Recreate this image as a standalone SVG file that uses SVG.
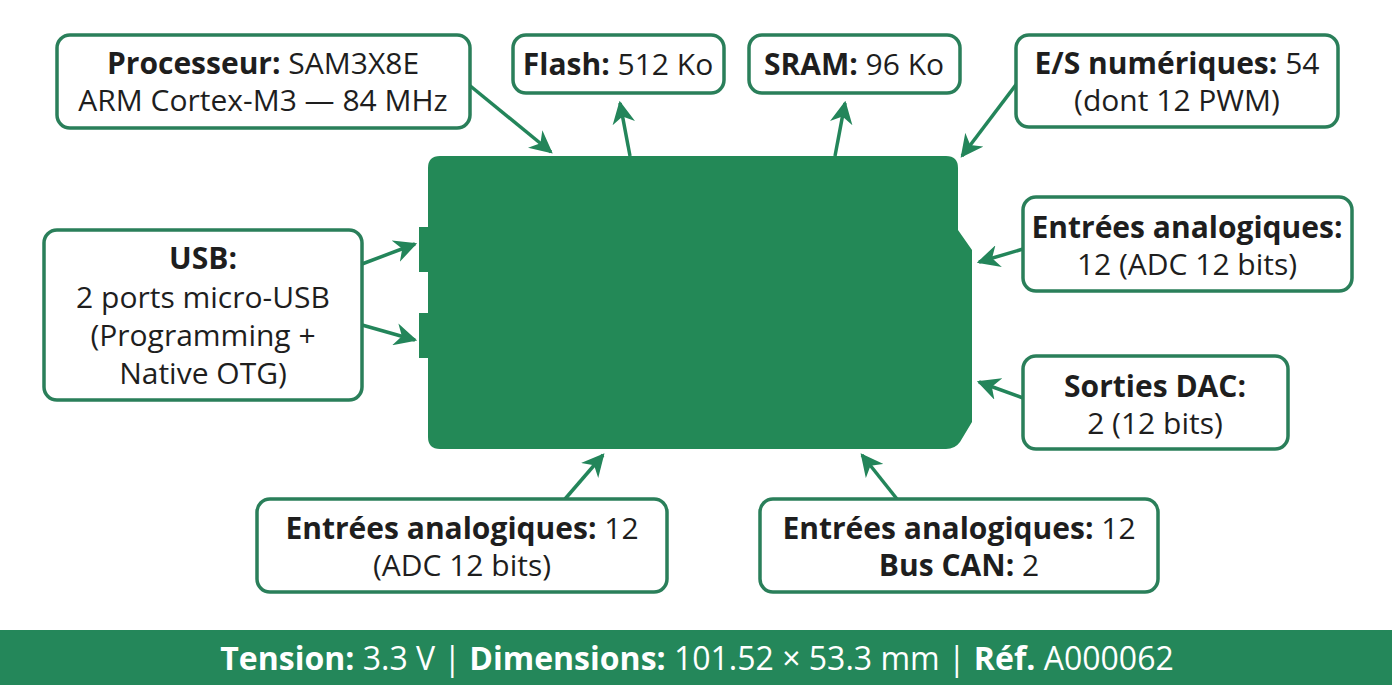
<svg xmlns="http://www.w3.org/2000/svg" width="1392" height="685" viewBox="0 0 1392 685">
<defs>
<style>
.box{fill:#fff;stroke:#2a7f5a;stroke-width:3.5}
text{font-family:"Open Sans","Noto Sans","DejaVu Sans",sans-serif;font-size:30px;fill:#1e1e1e;text-anchor:middle}
.b{font-weight:bold}
.con{stroke:#23855a;stroke-width:3.5;fill:none;marker-end:url(#ah)}
.board{fill:#238957}
</style>
<marker id="ah" viewBox="0 0 10 10" refX="9" refY="5" markerWidth="6.5" markerHeight="6.5" markerUnits="strokeWidth" orient="auto">
<path d="M0,0 L10,5 L0,10 L3,5 Z" fill="#23855a"/>
</marker>
</defs>
<rect width="1392" height="685" fill="#fff"/>
<g id="board">
<path class="board" d="M440,156 H946 Q958,156 958,168 V230 L972,250 V422 L960,442 Q955,449 946,449 H440 Q428,449 428,437 V168 Q428,156 440,156 Z"/>
<rect class="board" x="419" y="227" width="12" height="45"/>
<rect class="board" x="419" y="313" width="12" height="45"/>
</g>
<g id="connectors">
<line class="con" x1="463" y1="80" x2="551" y2="152"/>
<line class="con" x1="630" y1="156" x2="620" y2="103"/>
<line class="con" x1="835" y1="156" x2="845" y2="103"/>
<line class="con" x1="1018" y1="82" x2="962" y2="156"/>
<line class="con" x1="362" y1="264" x2="415" y2="244"/>
<line class="con" x1="362" y1="325" x2="415" y2="340"/>
<line class="con" x1="1023" y1="249" x2="979" y2="262"/>
<line class="con" x1="1023" y1="398" x2="979" y2="382"/>
<line class="con" x1="565" y1="499" x2="603" y2="455"/>
<line class="con" x1="897" y1="499" x2="862" y2="455"/>
</g>
<g id="processeur">
<rect class="box" x="57" y="35" width="413" height="93" rx="13"/>
<text x="263" y="74"><tspan class="b">Processeur:</tspan> SAM3X8E</text>
<text x="263" y="111">ARM Cortex-M3 — 84 MHz</text>
</g>
<g id="flash">
<rect class="box" x="513" y="35" width="211" height="58" rx="13"/>
<text x="618" y="75"><tspan class="b">Flash:</tspan> 512 Ko</text>
</g>
<g id="sram">
<rect class="box" x="749" y="35" width="211" height="58" rx="13"/>
<text x="854" y="75"><tspan class="b">SRAM:</tspan> 96 Ko</text>
</g>
<g id="es">
<rect class="box" x="1016" y="35" width="322" height="92" rx="13"/>
<text x="1177" y="74"><tspan class="b">E/S numériques:</tspan> 54</text>
<text x="1177" y="111">(dont 12 PWM)</text>
</g>
<g id="usb">
<rect class="box" x="44" y="230" width="318" height="170" rx="13"/>
<text x="203" y="269" class="b">USB:</text>
<text x="203" y="308">2 ports micro-USB</text>
<text x="203" y="346">(Programming +</text>
<text x="203" y="384">Native OTG)</text>
</g>
<g id="entrees-droite">
<rect class="box" x="1023" y="197" width="329" height="94" rx="13"/>
<text x="1187" y="238" class="b">Entrées analogiques:</text>
<text x="1187" y="275">12 (ADC 12 bits)</text>
</g>
<g id="dac">
<rect class="box" x="1023" y="356" width="265" height="93" rx="13"/>
<text x="1155" y="397" class="b">Sorties DAC:</text>
<text x="1155" y="434">2 (12 bits)</text>
</g>
<g id="entrees-bas-gauche">
<rect class="box" x="257" y="499" width="410" height="93" rx="13"/>
<text x="462" y="539"><tspan class="b">Entrées analogiques:</tspan> 12</text>
<text x="462" y="576">(ADC 12 bits)</text>
</g>
<g id="entrees-bas-droite">
<rect class="box" x="760" y="499" width="398" height="93" rx="13"/>
<text x="959" y="539"><tspan class="b">Entrées analogiques:</tspan> 12</text>
<text x="959" y="576"><tspan class="b">Bus CAN:</tspan> 2</text>
</g>
<g id="footer">
<rect x="0" y="630" width="1392" height="55" fill="#24875a"/>
<text x="697" y="670" style="fill:#fff;font-size:32px"><tspan class="b">Tension:</tspan> 3.3 V | <tspan class="b">Dimensions:</tspan> 101.52 × 53.3 mm | <tspan class="b">Réf.</tspan> A000062</text>
</g>
</svg>
